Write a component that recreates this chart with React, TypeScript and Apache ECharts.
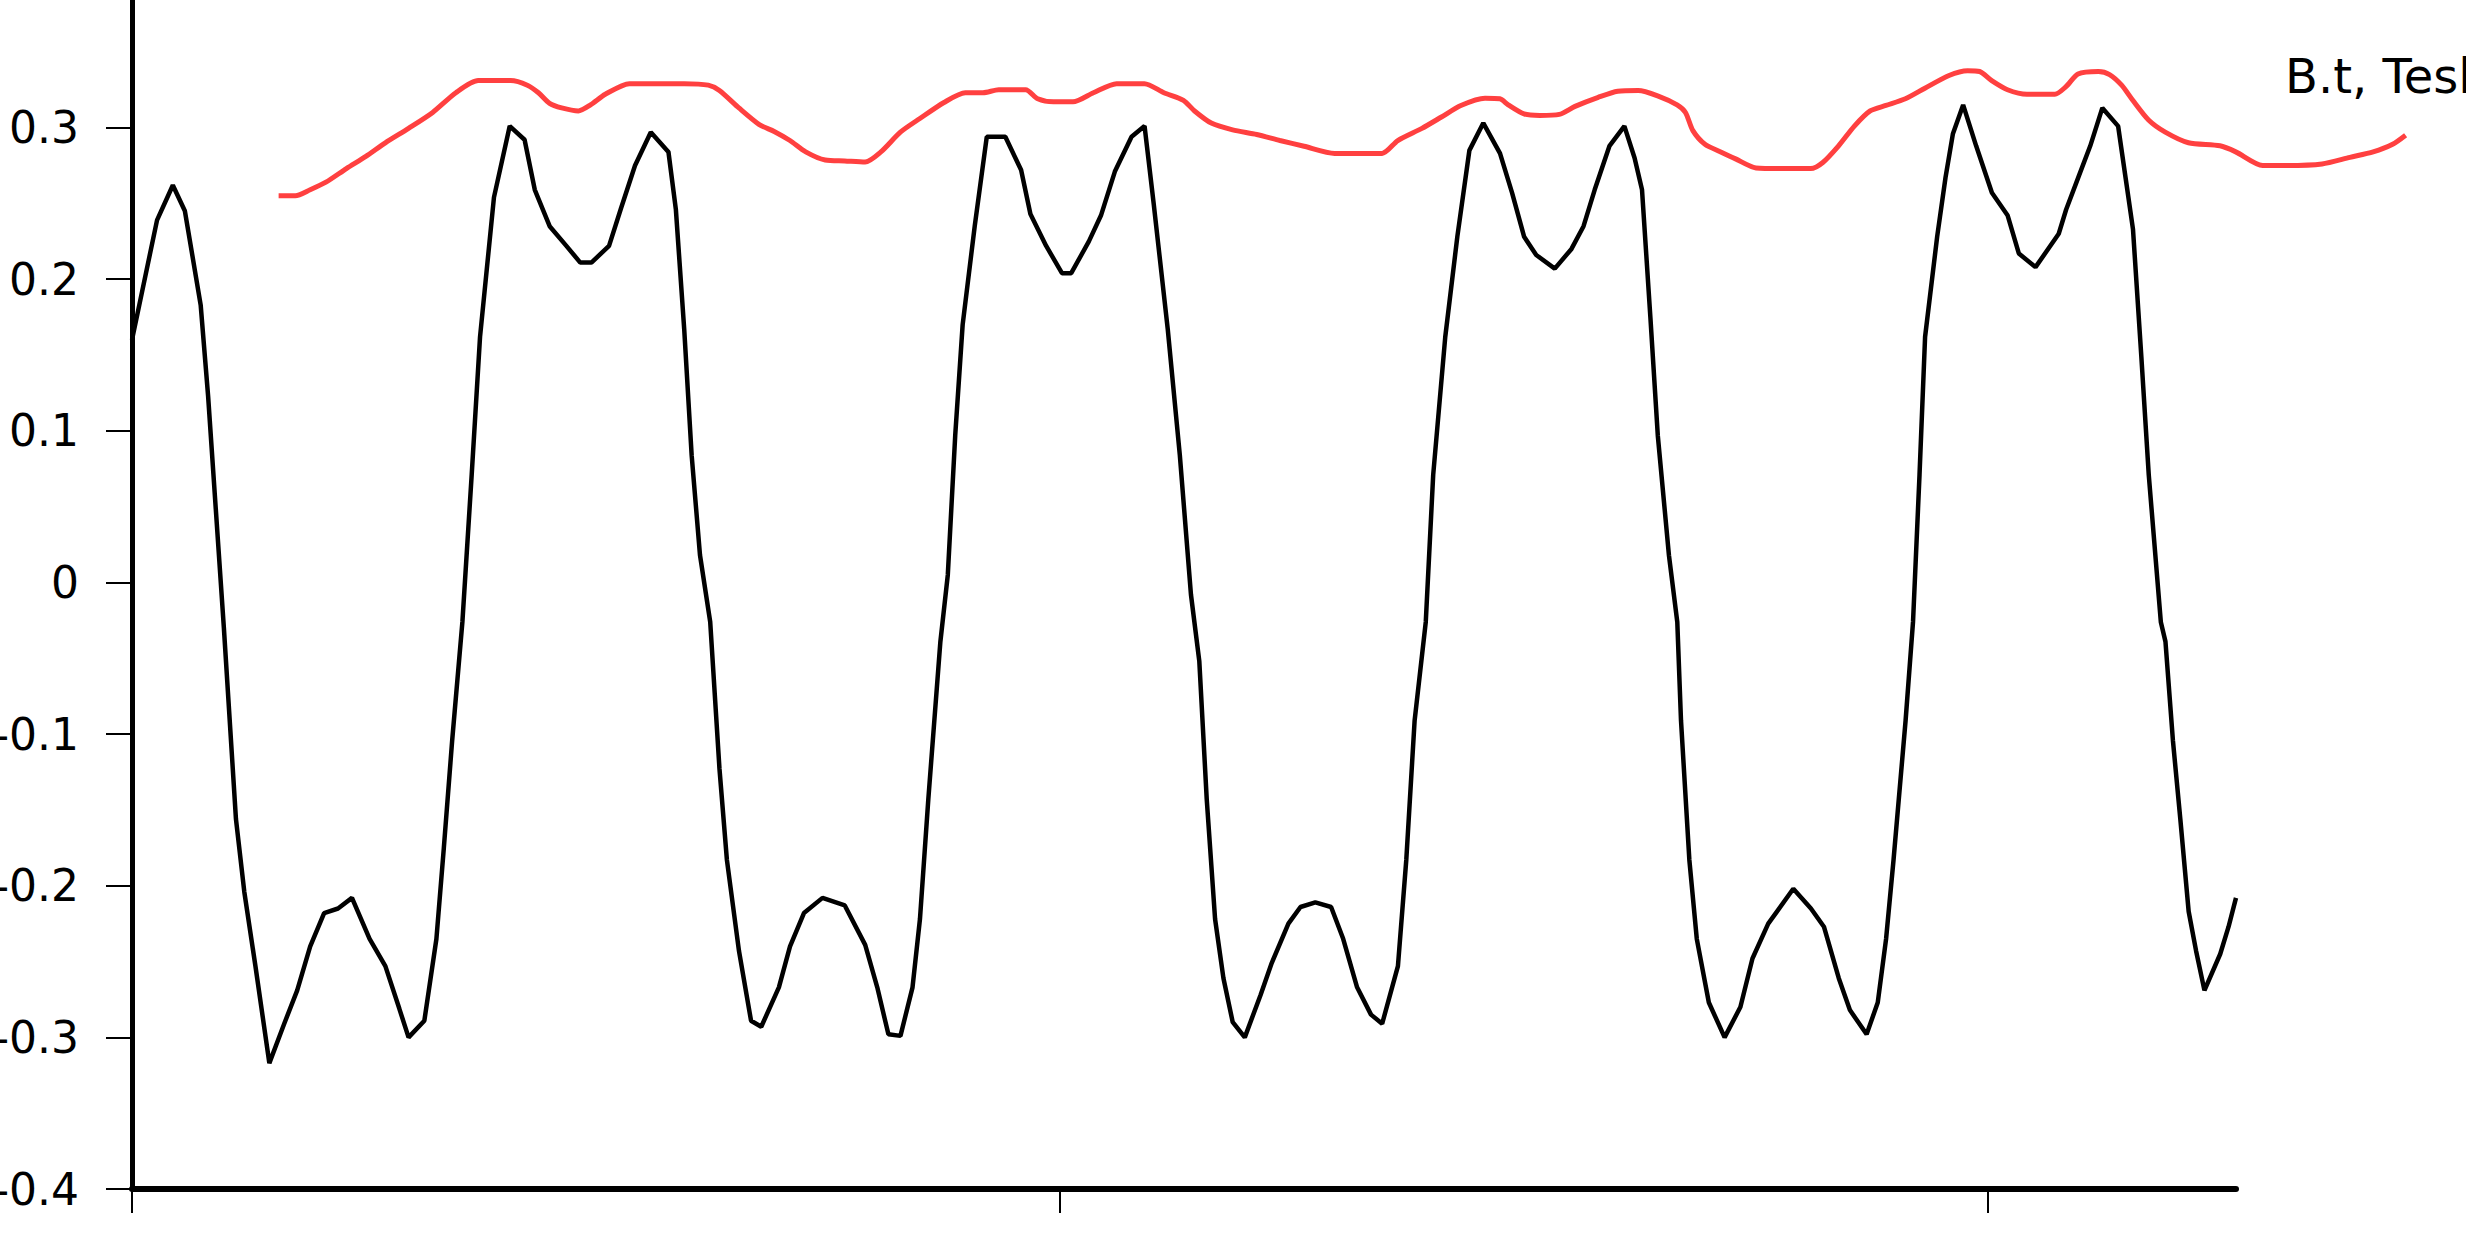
import React, { useEffect, useRef } from "react";
import * as echarts from "echarts";

// x in ms-like units (tick marks at 0, 10, 20), y in Tesla
const blackX = [0, 0.27, 0.44, 0.57, 0.74, 0.82, 0.99, 1.12, 1.21, 1.33, 1.48, 1.64, 1.78, 1.92, 2.07, 2.22, 2.37, 2.56, 2.73, 2.88, 2.98, 3.15, 3.28, 3.36, 3.45, 3.56, 3.66, 3.75, 3.9, 4.07, 4.23, 4.34, 4.5, 4.68, 4.83, 4.95, 5.14, 5.27, 5.42, 5.59, 5.78, 5.86, 5.95, 6.03, 6.12, 6.23, 6.33, 6.41, 6.54, 6.67, 6.78, 6.97, 7.09, 7.24, 7.44, 7.68, 7.9, 8.03, 8.15, 8.28, 8.41, 8.49, 8.58, 8.71, 8.79, 8.87, 8.95, 9.08, 9.21, 9.41, 9.58, 9.68, 9.85, 10.02, 10.12, 10.31, 10.44, 10.59, 10.77, 10.91, 11.01, 11.16, 11.29, 11.41, 11.5, 11.58, 11.67, 11.76, 11.86, 11.99, 12.16, 12.28, 12.46, 12.59, 12.75, 12.92, 13.05, 13.2, 13.35, 13.47, 13.64, 13.73, 13.82, 13.94, 14.02, 14.15, 14.28, 14.41, 14.56, 14.74, 14.87, 15.0, 15.13, 15.33, 15.51, 15.64, 15.76, 15.92, 16.08, 16.19, 16.27, 16.36, 16.44, 16.56, 16.65, 16.69, 16.78, 16.86, 16.99, 17.16, 17.33, 17.46, 17.63, 17.9, 18.09, 18.23, 18.39, 18.51, 18.69, 18.81, 18.9, 18.98, 19.11, 19.19, 19.26, 19.32, 19.45, 19.54, 19.62, 19.73, 19.87, 20.04, 20.21, 20.33, 20.51, 20.76, 20.84, 20.97, 21.1, 21.23, 21.4, 21.48, 21.56, 21.65, 21.73, 21.86, 21.91, 21.99, 22.07, 22.16, 22.24, 22.33, 22.5, 22.59, 22.67];
const blackY = [0.16, 0.239, 0.262, 0.245, 0.183, 0.123, -0.03, -0.156, -0.204, -0.253, -0.317, -0.291, -0.269, -0.24, -0.218, -0.215, -0.208, -0.235, -0.253, -0.281, -0.3, -0.289, -0.235, -0.175, -0.104, -0.026, 0.071, 0.162, 0.254, 0.301, 0.292, 0.259, 0.235, 0.222, 0.211, 0.211, 0.222, 0.247, 0.275, 0.297, 0.284, 0.246, 0.167, 0.084, 0.018, -0.026, -0.123, -0.183, -0.243, -0.289, -0.293, -0.267, -0.24, -0.218, -0.208, -0.213, -0.239, -0.267, -0.298, -0.299, -0.267, -0.222, -0.143, -0.039, 0.005, 0.097, 0.17, 0.235, 0.294, 0.294, 0.272, 0.243, 0.222, 0.204, 0.204, 0.225, 0.242, 0.271, 0.294, 0.301, 0.249, 0.167, 0.084, -0.008, -0.052, -0.143, -0.222, -0.261, -0.29, -0.3, -0.272, -0.251, -0.225, -0.214, -0.211, -0.214, -0.235, -0.267, -0.285, -0.291, -0.253, -0.183, -0.091, -0.026, 0.071, 0.162, 0.228, 0.285, 0.303, 0.283, 0.257, 0.228, 0.216, 0.207, 0.22, 0.235, 0.259, 0.288, 0.301, 0.28, 0.259, 0.175, 0.097, 0.018, -0.026, -0.091, -0.183, -0.235, -0.277, -0.3, -0.28, -0.248, -0.225, -0.202, -0.215, -0.227, -0.261, -0.282, -0.298, -0.277, -0.235, -0.183, -0.091, -0.026, 0.071, 0.162, 0.228, 0.267, 0.296, 0.315, 0.288, 0.257, 0.242, 0.217, 0.208, 0.23, 0.246, 0.267, 0.288, 0.313, 0.301, 0.267, 0.233, 0.149, 0.071, -0.026, -0.039, -0.104, -0.156, -0.217, -0.243, -0.269, -0.245, -0.227, -0.208];

const redX = [1.58, 1.76, 1.92, 2.09, 2.31, 2.52, 2.73, 2.98, 3.24, 3.49, 3.73, 4.08, 4.26, 4.38, 4.5, 4.63, 4.81, 4.94, 5.1, 5.36, 5.61, 5.95, 6.21, 6.33, 6.54, 6.76, 6.92, 7.09, 7.26, 7.47, 7.68, 7.9, 8.07, 8.28, 8.49, 8.75, 8.98, 9.17, 9.34, 9.63, 9.76, 9.93, 10.14, 10.36, 10.61, 10.91, 11.12, 11.33, 11.45, 11.63, 11.86, 12.12, 12.37, 12.63, 12.96, 13.47, 13.64, 13.9, 14.11, 14.32, 14.58, 14.74, 14.83, 15.0, 15.17, 15.38, 15.55, 15.8, 16.01, 16.23, 16.44, 16.65, 16.74, 16.82, 16.95, 17.12, 17.28, 17.5, 17.8, 18.09, 18.22, 18.39, 18.56, 18.73, 18.9, 19.11, 19.32, 19.58, 19.78, 19.91, 20.04, 20.21, 20.42, 20.72, 20.84, 20.97, 21.19, 21.31, 21.44, 21.56, 21.73, 21.91, 22.16, 22.5, 22.67, 22.96, 23.22, 23.6, 23.9, 24.15, 24.36, 24.5];
const redY = [0.255, 0.255, 0.259, 0.264, 0.273, 0.281, 0.29, 0.2995, 0.31, 0.323, 0.331, 0.331, 0.328, 0.323, 0.316, 0.313, 0.311, 0.315, 0.322, 0.329, 0.329, 0.329, 0.328, 0.3245, 0.313, 0.302, 0.2975, 0.2915, 0.284, 0.2786, 0.278, 0.2773, 0.284, 0.297, 0.306, 0.3166, 0.323, 0.323, 0.325, 0.325, 0.319, 0.317, 0.317, 0.323, 0.329, 0.329, 0.323, 0.318, 0.311, 0.303, 0.2985, 0.2955, 0.2915, 0.2877, 0.283, 0.283, 0.2915, 0.2995, 0.307, 0.3146, 0.3194, 0.319, 0.315, 0.309, 0.308, 0.3087, 0.314, 0.32, 0.324, 0.3245, 0.321, 0.315, 0.31, 0.298, 0.289, 0.284, 0.2794, 0.2734, 0.273, 0.273, 0.277, 0.288, 0.301, 0.311, 0.3146, 0.319, 0.326, 0.3344, 0.3375, 0.337, 0.331, 0.325, 0.322, 0.322, 0.327, 0.3354, 0.337, 0.335, 0.328, 0.318, 0.305, 0.297, 0.29, 0.288, 0.284, 0.275, 0.275, 0.276, 0.2804, 0.284, 0.289, 0.295];

const xTicks = [0, 10, 20];
const seriesLabel = "B.t, Tesla";
const FONT = "'DejaVu Sans', Verdana, sans-serif";

export default function App() {
  const ref = useRef<HTMLDivElement>(null);
  useEffect(() => {
    if (!ref.current) return;
    const chart = echarts.init(ref.current, undefined, { renderer: "svg" });
    const black = blackX.map((x, i) => [x, blackY[i]]);
    const red = redX.map((x, i) => [x, redY[i]]);
    chart.setOption({
      animation: false,
      backgroundColor: "#ffffff",
      grid: [
        { left: 132, right: 230, top: 0, bottom: 55, containLabel: false, outerBoundsMode: "none" },
        { left: 132, right: 60.4, top: 0, bottom: 55, containLabel: false, outerBoundsMode: "none" },
      ],
      xAxis: [
        {
          type: "value",
          gridIndex: 0,
          min: 0,
          max: 22.67,
          interval: 10,
          axisLine: { show: true, onZero: false, lineStyle: { color: "#000", width: 6 } },
          axisTick: { show: true, customValues: xTicks, length: 24, lineStyle: { color: "#000", width: 2 } },
          axisLabel: { show: false },
          splitLine: { show: false },
        },
        {
          type: "value",
          gridIndex: 1,
          min: 0,
          max: 24.5,
          show: false,
          splitLine: { show: false },
        },
      ],
      yAxis: [
        {
          type: "value",
          gridIndex: 0,
          min: -0.4,
          max: 0.4,
          interval: 0.1,
          axisLine: { show: true, onZero: false, lineStyle: { color: "#000", width: 5 } },
          axisTick: { show: true, length: 26, lineStyle: { color: "#000", width: 2 } },
          axisLabel: {
            show: true,
            margin: 53,
            color: "#000",
            fontSize: 44,
            fontFamily: FONT,
            formatter: (v: number) => String(Math.round(v * 10) / 10),
          },
          splitLine: { show: false },
        },
        {
          type: "value",
          gridIndex: 1,
          min: -0.4,
          max: 0.4,
          interval: 0.1,
          show: false,
          splitLine: { show: false },
        },
      ],
      graphic: [
        {
          type: "text",
          x: 2285,
          y: 100,
          style: {
            text: seriesLabel,
            fill: "#000",
            font: `48px ${FONT}`,
            verticalAlign: "middle",
            align: "left",
          },
        },
      ],
      series: [
        {
          type: "line",
          xAxisIndex: 0,
          yAxisIndex: 0,
          data: black,
          symbol: "none",
          lineStyle: { color: "#000", width: 4.5 },
          z: 3,
        },
        {
          type: "line",
          xAxisIndex: 1,
          yAxisIndex: 1,
          data: red,
          symbol: "none",
          smooth: 0.25,
          lineStyle: { color: "#ff4040", width: 5 },
          clip: false,
          z: 2,
        },
      ],
    });
    return () => chart.dispose();
  }, []);
  return (
    <div
      ref={ref}
      style={{ position: "absolute", left: 0, top: -24, width: 2466, height: 1268, background: "#fff" }}
    />
  );
}
